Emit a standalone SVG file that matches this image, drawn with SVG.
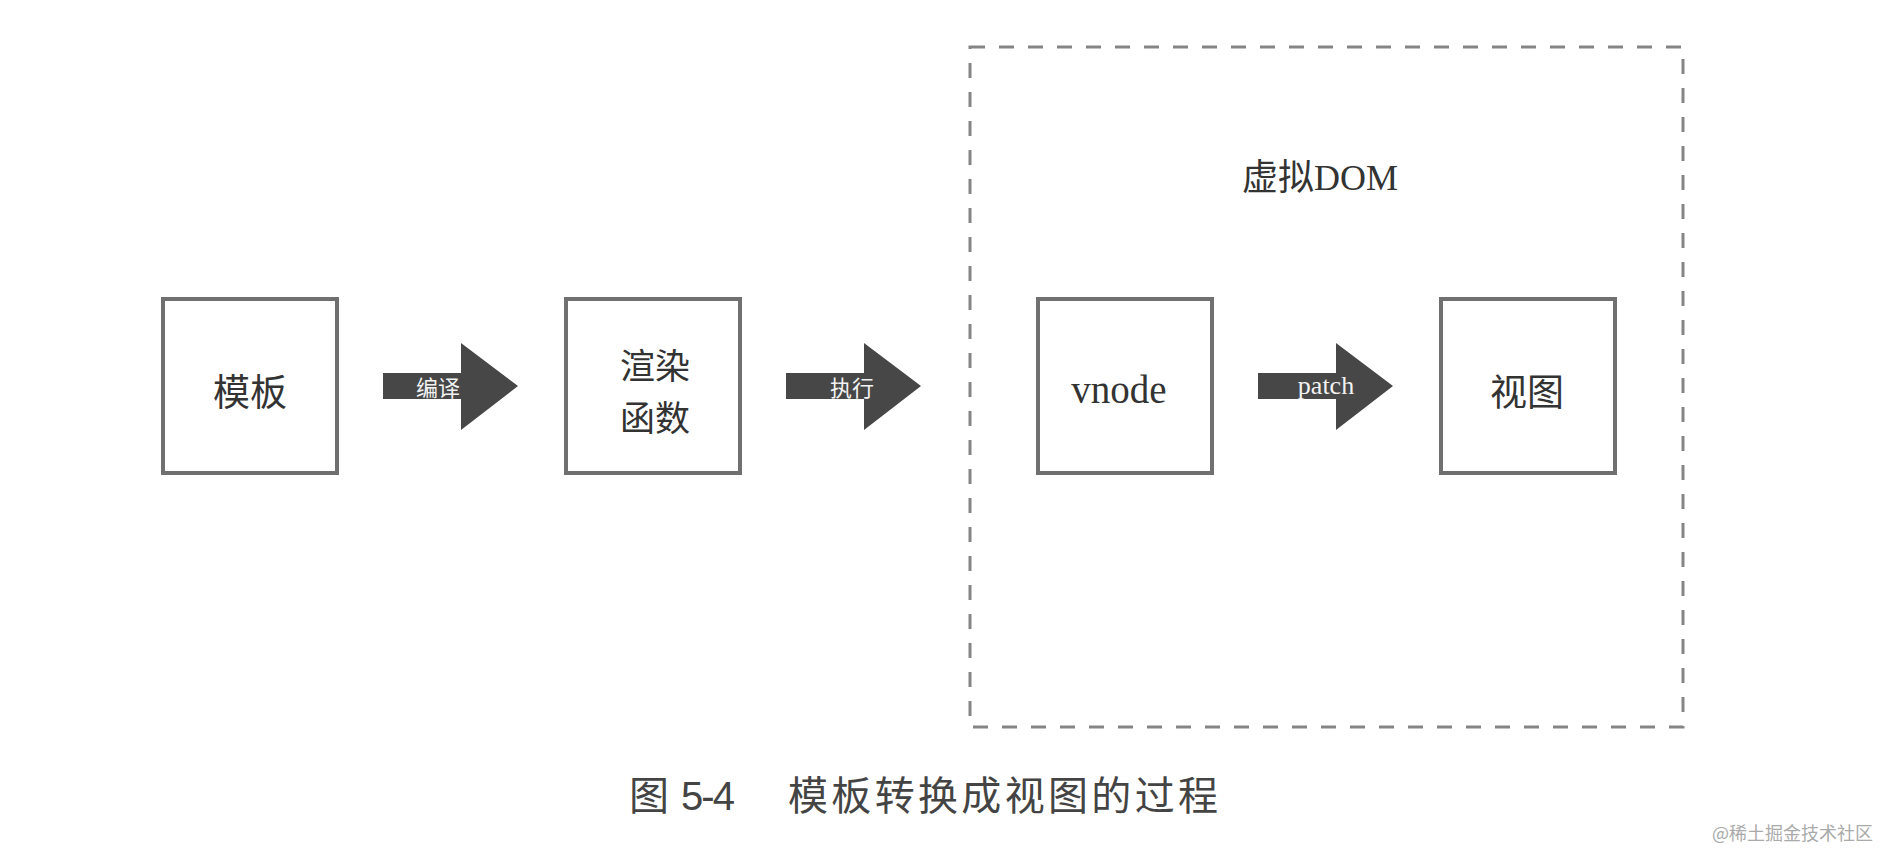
<svg xmlns="http://www.w3.org/2000/svg" width="1880" height="852" viewBox="0 0 1880 852">
<defs>
<style>
.box{fill:#fff;stroke:#707070;stroke-width:4}
.cjk{font-family:"Noto Sans CJK SC",sans-serif;fill:#333;text-anchor:middle;dominant-baseline:central}
.ser{font-family:"Liberation Serif","Noto Sans CJK SC",serif;fill:#333;text-anchor:middle}
.arrow{fill:#474747}
.alab{font-family:"Noto Sans CJK SC",sans-serif;fill:#f2f2f2;text-anchor:middle;dominant-baseline:central;font-size:22px}
.alabs{font-family:"Liberation Serif",serif;fill:#f2f2f2;text-anchor:middle;font-size:26px}
.dash{fill:none;stroke:#858585;stroke-width:3;stroke-dasharray:15 14}
</style>
</defs>
<rect width="1880" height="852" fill="#fff"/>
<g id="vdom-group">
<rect class="dash" x="970" y="47" width="713" height="680"/>
<text class="ser" x="1320" y="190" font-size="36">虚拟DOM</text>
</g>
<g id="node-template">
<rect class="box" x="163" y="299" width="174" height="174"/>
<text class="cjk" x="250" y="390" font-size="37">模板</text>
</g>
<g id="node-render">
<rect class="box" x="566" y="299" width="174" height="174"/>
<text class="cjk" x="655" y="363" font-size="35">渲染</text>
<text class="cjk" x="655" y="415" font-size="35">函数</text>
</g>
<g id="node-vnode">
<rect class="box" x="1038" y="299" width="174" height="174"/>
<text class="ser" x="1119" y="403" font-size="39">vnode</text>
</g>
<g id="node-view">
<rect class="box" x="1441" y="299" width="174" height="174"/>
<text class="cjk" x="1527" y="390" font-size="37">视图</text>
</g>
<g id="connectors">
<g id="arrow-compile">
<polygon class="arrow" points="383,373 461,373 461,343 518,386 461,430 461,399 383,399"/>
<text class="alab" x="438" y="386">编译</text>
</g>
<g id="arrow-exec">
<polygon class="arrow" points="786,373 864,373 864,343 921,386 864,430 864,399 786,399"/>
<text class="alab" x="852" y="386">执行</text>
</g>
<g id="arrow-patch">
<polygon class="arrow" points="1258,373 1336,373 1336,343 1393,386 1336,430 1336,399 1258,399"/>
<text class="alabs" x="1326" y="394">patch</text>
</g>
</g>
<g id="caption" font-family="&quot;Noto Sans CJK SC&quot;,sans-serif" fill="#444" font-size="40">
<text x="629" y="810">图</text>
<text x="681" y="810" font-family="&quot;Liberation Sans&quot;,sans-serif" textLength="54">5-4</text>
<text x="788" y="810" textLength="430">模板转换成视图的过程</text>
</g>
<text x="1712" y="840" font-family="&quot;Noto Sans CJK SC&quot;,sans-serif" font-size="18" fill="#aaa">@稀土掘金技术社区</text>
</svg>
